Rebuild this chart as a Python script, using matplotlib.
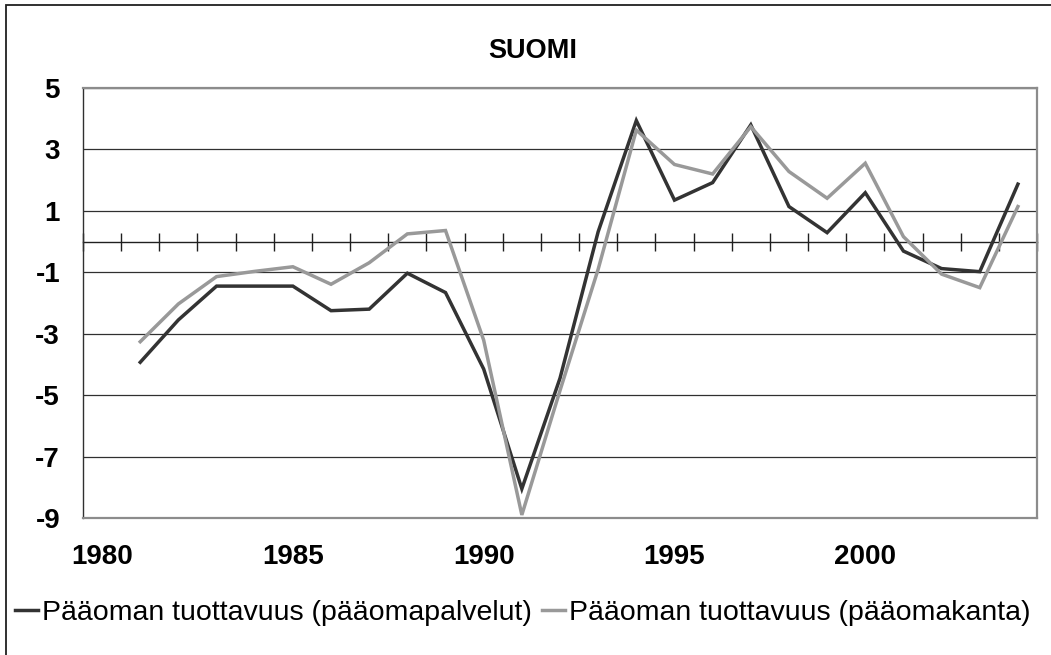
import numpy as np
import matplotlib
matplotlib.use("Agg")
import matplotlib.pyplot as plt
from matplotlib.patches import Rectangle
from matplotlib.lines import Line2D

plt.rcParams['font.family'] = ['Liberation Sans', 'DejaVu Sans']

# ---- data ----
title = "SUOMI"
years = list(range(1980, 2005))
palvelut = [np.nan, -3.93, -2.55, -1.45, -1.45, -1.45, -2.25, -2.2, -1.03, -1.66,
            -4.15, -8.05, -4.45, 0.32, 3.94, 1.35, 1.92, 3.8, 1.14, 0.29,
            1.59, -0.31, -0.88, -0.98, 1.87]
kanta = [np.nan, -3.26, -2.03, -1.14, -0.97, -0.82, -1.39, -0.69, 0.25, 0.36,
         -3.21, -8.9, -4.85, -0.9, 3.63, 2.51, 2.2, 3.74, 2.28, 1.41,
         2.55, 0.16, -1.06, -1.5, 1.14]
series_names = ["Pääoman tuottavuus (pääomapalvelut)",
                "Pääoman tuottavuus (pääomakanta)"]
x_labels = [1980, 1985, 1990, 1995, 2000]
y_ticks = [-9, -7, -5, -3, -1, 1, 3, 5]

W, H = 1051, 655
fig = plt.figure(figsize=(W / 100, H / 100), dpi=100)
fig.patch.set_facecolor('white')

left, right, top, bottom = 83, 1037, 88, 518
ax = fig.add_axes([left / W, 1 - bottom / H, (right - left) / W, (bottom - top) / H])

dark_c = '#333333'
gray_c = '#999999'
ax.plot(years, palvelut, color=dark_c, lw=2.5, solid_joinstyle='miter', zorder=3)
ax.plot(years, kanta, color=gray_c, lw=2.5, solid_joinstyle='miter', zorder=3)

ymin, ymax = y_ticks[0], y_ticks[-1]
ax.set_ylim(ymin, ymax)
ax.set_xlim(years[0] - 0.5, years[-1] + 0.5)

ax.set_yticks(y_ticks)
ax.set_yticklabels([str(v) for v in y_ticks])
ax.set_xticks(x_labels)
ax.set_xticklabels([str(v) for v in x_labels])
ax.tick_params(axis='y', length=0, pad=16.5, labelsize=20)
ax.tick_params(axis='x', length=0, pad=19, labelsize=20)
for lab in ax.get_xticklabels() + ax.get_yticklabels():
    lab.set_fontweight('bold')

ax.set_axisbelow(True)
ax.yaxis.grid(True, color='#303030', lw=0.9)
ax.xaxis.grid(False)

for s in ['top', 'right', 'bottom']:
    ax.spines[s].set_color('#8c8c8c')
    ax.spines[s].set_linewidth(1.6)
ax.spines['left'].set_color('#303030')
ax.spines['left'].set_linewidth(1.0)

# zero axis with cross tick marks at category boundaries
zero_frac = (0 - ymin) / (ymax - ymin)
sec = ax.secondary_xaxis(zero_frac)
sec.set_xticks(np.arange(years[0] - 0.5, years[-1] + 1.0, 1.0))
sec.tick_params(direction='inout', length=12.5, width=1.0, color='#202020',
                labeltop=False, labelbottom=False)
for s in ['top', 'bottom']:
    sec.spines[s].set_color('#202020')
    sec.spines[s].set_linewidth(1.0)

# title
fig.text(533 / W, 1 - 51.5 / H, title, ha='center', va='center',
         fontsize=19.5, fontweight='bold')

# legend
handles = [Line2D([], [], color=dark_c, lw=2.5), Line2D([], [], color=gray_c, lw=2.5)]
fig.legend(handles, series_names, loc='center', bbox_to_anchor=(523 / W, 1 - 613 / H),
           ncol=2, frameon=False, handlelength=0.8, handletextpad=0.15,
           columnspacing=0.35, fontsize=20.5, borderpad=0, borderaxespad=0)

# outer chart border (right/bottom edges outside the image)
fig.add_artist(Rectangle((6 / W, -0.1), 1.2, 1 - 5 / H + 0.1, fill=False,
                         edgecolor='#202020', lw=1.3, transform=fig.transFigure))

fig.savefig('out.png', dpi=100)
